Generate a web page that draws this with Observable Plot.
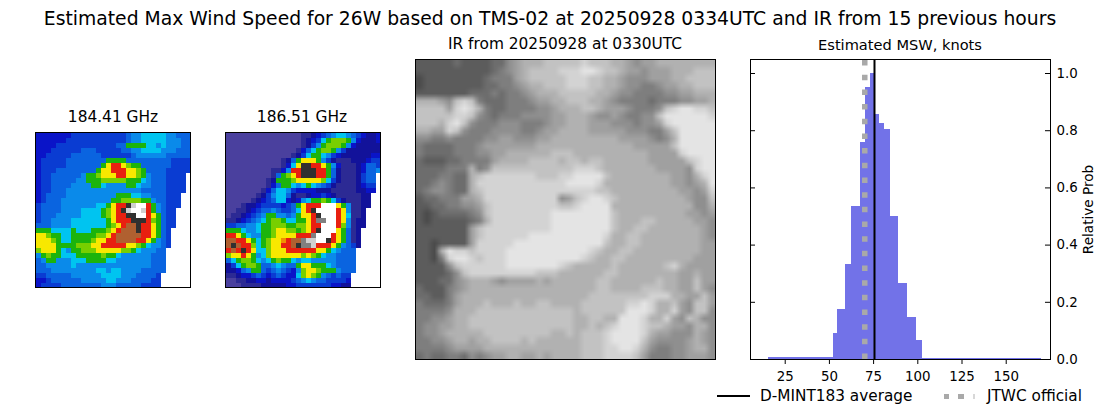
<!DOCTYPE html>
<html><head><meta charset="utf-8">
<script src="https://cdn.jsdelivr.net/npm/d3@7"></script>
<script src="https://cdn.jsdelivr.net/npm/@observablehq/plot@0.6"></script>
<style>
html,body{margin:0;padding:0;background:#fff;width:1100px;height:409px;overflow:hidden}
#c{position:relative;width:1100px;height:409px;font-family:"DejaVu Sans",sans-serif;color:#000}
.t{position:absolute;white-space:nowrap;transform:translateX(-50%);line-height:1}
.s{position:absolute}
</style></head><body><div id="c"></div>
<script>
const binEdges=[15.4,52.2,54.4,58.9,62.3,67.4,70.2,73.1,75.3,78.2,81.0,84.4,88.9,94.0,99.1,102.5,169.8];
const binProb=[0.008,0.092,0.176,0.333,0.536,0.76,0.952,1.0,0.858,0.826,0.805,0.501,0.267,0.148,0.068,0.005];
const xTicks=[25,50,75,100,125,150];
const yTicks=[0,0.2,0.4,0.6,0.8,1.0];
const avgWind=75.5, jtwcWind=70;
const xDomain=[5.37,175.05], yDomain=[0,1.049], tickLenKt=2.83;
const mwLevels="0123456789ABCDEFGHW".split("");
const mwColors=["#4a409e","#2c2a94","#12129a","#0a14c8","#0a3cd2","#0a64e0","#0a8aea","#00c4f0","#1cb40c","#78cf00","#f8e800","#f09000","#e82010","#b06030","#303030","#808080","#d0d0d0","#ffffff","#ffffff"];
const grid184=[
"33333 33444 44444 44456 67777 766555",
"33333 34444 44444 44456 67777 766655",
"33334 44444 44444 45588 88776 766655",
"33344 44445 55444 44556 67777 666555",
"33444 44555 55544 44445 66666 655555",
"34444 45555 55558 88855 55555 554444",
"34444 45555 5558A CCA98 85555 554444",
"34445 55555 558AA CCCAA 98555 544444",
"34455 55556 889AA ACCAA 98655 54444W",
"34455 55566 88899 99988 87655 54444W",
"34455 55666 68876 66688 76655 54444W",
"34455 56666 66666 66666 65555 54444W",
"34555 56666 66666 68887 76655 5444WW",
"34555 66666 66666 88999 98865 5444WW",
"45555 66666 66778 ACCEG HHC86 5444WW",
"45555 66667 77789 ACEGH HGC86 544WWW",
"45556 66667 77789 ACCEE HHCA8 544WWW",
"45566 66777 77778 ACCCE EEC98 544WWW",
"55566 66777 77778 9ACDD ECCA8 544WWW",
"88877 77877 78889 ACDDD ECCA8 54WWWW",
"AA988 77888 8899A CDDDD DCCA8 54WWWW",
"AAA98 77888 89AAC CDDDD CCA86 54WWWW",
"AAAA8 88899 9AACC CCCAA 98766 54WWWW",
"9AAA8 76889 99AAA AA998 76665 5WWWWW",
"68988 77788 88898 87666 66655 5WWWWW",
"56886 66777 88887 76666 66655 5WWWWW",
"55666 66766 66666 66666 66655 5WWWWW",
"55566 66666 66776 77666 65555 5WWWWW",
"44555 55666 66677 77666 55554 WWWWWW",
"33455 55556 66667 76665 55544 WWWWWW",
"34444 55555 55566 65555 54444 WWWWWW"];
const grid186=[
"00000 00000 00000 11234 56776 543223",
"00000 00000 00000 12347 89998 632223",
"00000 00000 00000 12468 99986 322222",
"00000 00000 00001 35789 98642 222222",
"00000 00000 00012 47887 64322 222233",
"00000 00000 01258 AAA86 42111 222344",
"00000 00000 0137A EECCA 86311 123554",
"00000 00001 136CC EEECC 85211 123556",
"00000 00001 589AC EEECC 85211 12455W",
"00000 00012 8889A AAAA9 74211 12455W",
"00000 00013 58876 78765 42111 12344W",
"00000 00135 77643 33322 21111 12233W",
"00000 01246 77521 12334 32111 1122WW",
"00000 12345 77323 67889 87421 1122WW",
"00012 23444 43458 ACCCH HHA86 1122WW",
"00112 34556 54457 ACEHH HHCA6 112WWW",
"01123 45688 66568 AACEH HHCA7 112WWW",
"11234 56789 98778 8ACFF HHCA6 122WWW",
"44556 67889 99889 9ACCH HHC96 122WWW",
"88876 67889 AA998 9ACEH HHA85 12WWWW",
"CCA87 66889 AAAAC CCFHH HCA85 12WWWW",
"DDCCA 8789A ABCDD FGGHH ECA85 12WWWW",
"DEDCC 9789A ACCDE FFGCC CA865 42WWWW",
"CDCEC A779A AACCC CCCAA 87655 5WWWWW",
"9AACA 8679A AAAAA 9A987 66555 5WWWWW",
"57899 87678 98876 77666 66555 5WWWWW",
"24789 98556 76558 AA888 76555 5WWWWW",
"22356 88545 65436 9AA98 88655 5WWWWW",
"11233 45434 54337 9A986 54544 WWWWWW",
"00112 23323 33345 67655 44443 WWWWWW",
"00011 11222 22334 44444 43322 WWWWWW"];
const gridIR=[
"1111121111224566677777877766545566666666",
"1111111111234567777888998776554555666777",
"0111111112333567777788877665444555667777",
"0111111112233456677788877665443345566777",
"1111111222323345666777776654433334455666",
"6665478732223334556677766543333233344556",
"7777589863223333445666776555433347899887",
"7777788743233344445566654454334479999998",
"7776897433344433345566655544434458999999",
"6655874333444433455666655555444335799999",
"4433433334455444556666666665555434699999",
"3222233345555555666666666666655555799999",
"3222233344556666667776666666666555589999",
"2111223333566667777677677666666555557899",
"2222333634777777777778887666666655554899",
"2223322678888888777889999766666666554689",
"2234322688888888888899998666666666554569",
"2344322678888888888888887766666666655458",
"1223335568888888888457899876666666665447",
"1122334457888888888778999966666666666446",
"1012222347888888889999999976666666665545",
"1011111236888888889999999976667766666554",
"1111111578888888889999999976677666666654",
"1111111578888889999999999866776666666654",
"1101111588888999999999999766776666666655",
"1106988788889999999999987667766666666655",
"1103899878889999999999876677666666666555",
"1111478888889999999876666676666667865555",
"1111247888888888777666666776666666655655",
"1112245666545555656666667766666676655755",
"2111345666666666666666667766667776655754",
"2211356666666666666666677777777888665575",
"3222356667666766776666777777889866754775",
"3333466677777777777776777777999866854774",
"3344566777777777777776677669998668547644",
"3445566777777777777776676789998776554664",
"3445666667777777776676777899998655444654",
"3344566566777767666666777899997544445654",
"3333455556666666666666777889986433445664",
"2322332434556655656666777888875333445554"];
const flat=(rows,n)=>rows.map(r=>r.replace(/ /g,"")).join("").split("");
const host=document.getElementById("c");

function label(text,cx,top,size){const d=document.createElement("div");d.className="t";d.textContent=text;d.style.cssText=`left:${cx}px;top:${top}px;font-size:${size}px`;host.appendChild(d);}

function imagePanel(rows,n,left,top,size,opts){
  const p=Plot.plot({width:size+2,height:size+2,marginTop:1,marginBottom:1,marginLeft:1,marginRight:1,
    x:{domain:[0,n],axis:null},y:{domain:[n,0],axis:null},...opts.scale,
    style:{position:"absolute",left:(left-1)+"px",top:(top-1)+"px",background:"transparent"},
    marks:[Plot.raster(opts.values(rows,n),{width:n,height:n,x1:0,x2:n,y1:0,y2:n,fill:d=>d,imageRendering:opts.rendering}),
      Plot.frame({stroke:"#000",strokeWidth:1})]});
  host.appendChild(p);
}
const mwOpts={scale:{color:{type:"ordinal",domain:mwLevels,range:mwColors}},values:flat,rendering:"pixelated"};
imagePanel(grid184,31,35,132,155,mwOpts);
imagePanel(grid186,31,225,132,155,mwOpts);
imagePanel(gridIR,40,415,59,300,{scale:{color:{type:"linear",domain:[0,9],range:["#4b4b4b","#e4e4e4"]}},values:(r,n)=>flat(r,n).map(Number),rendering:"auto"});

const bins=binProb.map((v,i)=>({x1:binEdges[i],x2:binEdges[i+1],y:v}));
const hist=Plot.plot({width:360,height:335,marginLeft:10,marginRight:50,marginTop:9,marginBottom:26,
  style:{position:"absolute",left:"740px",top:"50px",background:"transparent",fontFamily:"DejaVu Sans",fontSize:"13.4px",color:"#000",overflow:"visible"},
  x:{domain:xDomain},y:{domain:yDomain},
  marks:[
    Plot.rectY(bins,{x1:"x1",x2:"x2",y:"y",fill:"#7272e8",shapeRendering:"crispEdges"}),
    Plot.ruleX([jtwcWind],{y1:yDomain[0],y2:yDomain[1],stroke:"#a9a9a9",strokeWidth:5.5,strokeDasharray:"5.5,9.17"}),
    Plot.ruleX([avgWind],{stroke:"#000",strokeWidth:2}),
    Plot.ruleY(yTicks,{x1:xDomain[0],x2:xDomain[0]+tickLenKt,stroke:"#000"}),
    Plot.ruleY(yTicks,{x1:xDomain[1]-tickLenKt,x2:xDomain[1],stroke:"#000"}),
    Plot.frame({stroke:"#000",strokeWidth:1}),
    Plot.axisX({ticks:xTicks,tickSize:5,tickPadding:7,label:null,tickFormat:d=>String(d),stroke:"#000"}),
    Plot.axisY({anchor:"right",ticks:yTicks,tickSize:0,tickPadding:6,label:null,tickFormat:d3.format(".1f")}),
    Plot.text(["Relative Prob"],{frameAnchor:"right",rotate:-90,dx:38,textAnchor:"middle",fontSize:13.6,fill:"#000"})
  ]});
host.appendChild(hist);

label("Estimated Max Wind Speed for 26W based on TMS-02 at 20250928 0334UTC and IR from 15 previous hours",550,10,18.75);
label("184.41 GHz",113,110,15.4);
label("186.51 GHz",302,110,15.4);
label("IR from 20250928 at 0330UTC",565,37,15.4);
label("Estimated MSW, knots",900,38,14.6);

const line=document.createElement("div");line.className="s";line.style.cssText="left:717px;top:395px;width:33px;height:2px;background:#000";host.appendChild(line);
[943.5,958.2].forEach(x=>{const q=document.createElement("div");q.className="s";q.style.cssText=`left:${x}px;top:393.5px;width:5.5px;height:5.5px;background:#a9a9a9`;host.appendChild(q);});
const q=document.createElement("div");q.className="s";q.style.cssText="left:973px;top:393.5px;width:1.5px;height:5.5px;background:#d8d8d8";host.appendChild(q);
[["D-MINT183 average",760],["JTWC official",987]].forEach(([t,x])=>{const d=document.createElement("div");d.className="s";d.textContent=t;d.style.cssText=`left:${x}px;top:389px;font-size:15.3px;line-height:1;white-space:nowrap`;host.appendChild(d);});
</script></body></html>
